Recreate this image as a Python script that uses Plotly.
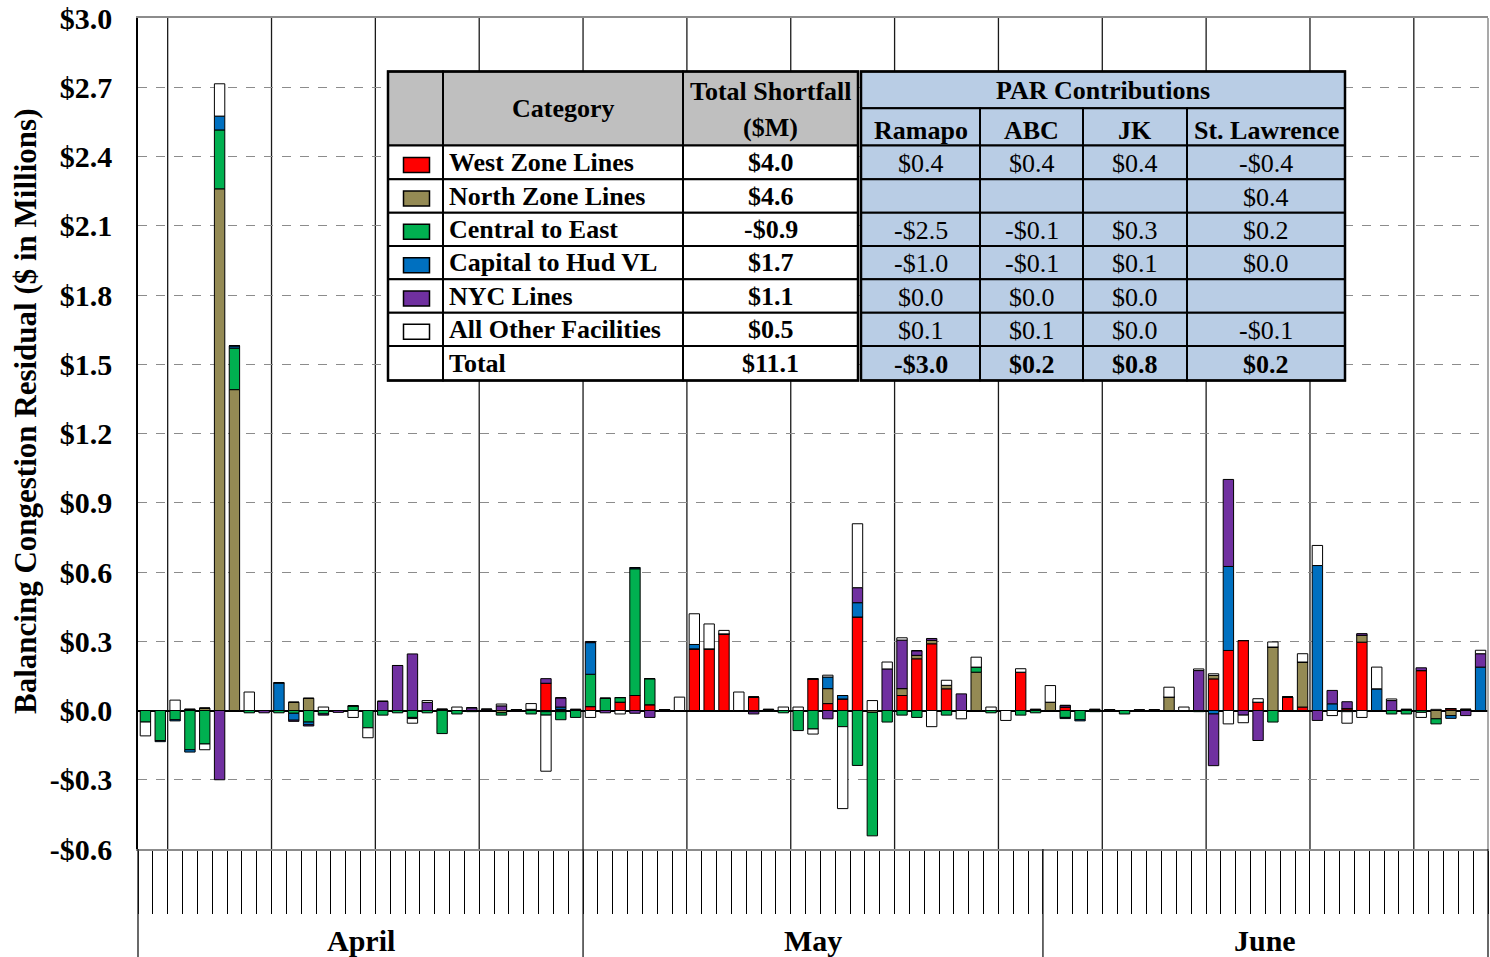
import plotly.graph_objects as go

# ---------------------------------------------------------------------------
# Daily balancing congestion residuals ($M), April 1 - June 30 (91 days)
# ---------------------------------------------------------------------------
days = list(range(91))
months = ["April", "May", "June"]
month_lengths = [30, 31, 30]

west_zone = [
    0, 0, 0, 0, 0, 0, 0, 0, 0, 0,
    0, 0, 0, 0, 0, 0, 0, 0, 0, 0,
    0, 0, 0, 0, 0, 0, 0, 0.118, 0.005, 0,
    0.017, 0, 0.036, 0.065, 0.025, 0, 0, 0.267, 0.267, 0.332,
    0, 0.058, 0, 0, 0, 0.137, 0.03, 0.05, 0.405, 0,
    0, 0.065, 0.224, 0.289, 0.094, 0, 0, 0, 0, 0.166,
    0, 0, 0.015, 0, 0, 0, 0, 0, 0, 0,
    0, 0, 0.137, 0.26, 0.303, 0.036, 0, 0.058, 0.015, 0,
    0, 0.008, 0.296, 0, 0, 0, 0.173, 0, 0.008, 0,
    0,
]
north_zone = [
    0, 0, 0, 0.005, 0.01, 2.26, 1.39, 0, 0, 0,
    0.036, 0.053, 0, 0, 0, 0, 0, 0, 0, 0,
    0.005, 0, 0, 0, -0.01, 0, 0, -0.005, -0.005, 0,
    0, 0, 0, 0, 0, 0, 0, 0, 0, 0,
    0, 0, 0, 0, 0, 0, 0.065, 0, 0, -0.008,
    0, 0.03, 0.015, 0.015, 0.015, 0, 0.166, 0, 0, 0,
    0, 0.036, 0, 0, 0, 0, 0, 0, 0, 0.058,
    0, 0, 0.015, 0, 0, 0, 0.275, 0, 0.195, 0,
    0, 0, 0.03, 0, 0, 0, 0, -0.036, -0.022, 0,
    0,
]
central_east = [
    -0.05, -0.13, -0.04, -0.17, -0.145, 0.255, 0.18, -0.01, 0, -0.01,
    -0.012, -0.05, -0.015, 0, 0.02, -0.075, -0.02, -0.01, -0.03, -0.01,
    -0.1, -0.015, -0.005, 0, -0.01, 0.004, -0.015, -0.015, -0.035, -0.03,
    0.14, 0.053, 0.02, 0.549, 0.113, 0.004, 0, 0, 0, 0,
    0, -0.005, -0.004, -0.01, -0.087, -0.08, 0, -0.07, -0.238, -0.535,
    -0.05, -0.02, -0.03, 0, -0.02, 0, 0.022, -0.01, 0, -0.02,
    -0.01, 0, -0.03, -0.04, -0.005, 0, -0.015, 0, 0, 0,
    0, -0.005, 0, 0, 0, 0, -0.05, 0, 0, 0,
    0, -0.005, 0, 0, -0.015, -0.015, -0.008, -0.022, 0, 0.005,
    0,
]
capital_hud = [
    0, -0.005, -0.005, -0.01, 0, 0.06, 0.01, 0, 0, 0.12,
    -0.03, -0.012, 0, 0, 0, 0, 0, 0, -0.005, 0,
    0, 0, 0, 0, 0, 0, 0, 0, 0.01, 0,
    0.137, 0, 0, 0.005, 0, 0, 0, 0.019, 0, 0,
    0, 0, 0, 0, 0, 0, 0.05, 0.015, 0.062, 0,
    0, 0, 0, 0, 0, 0, 0, 0, 0, 0,
    0, 0, -0.005, -0.005, 0, 0, 0, 0, 0, 0,
    0, 0, -0.015, 0.364, 0, 0, 0, 0, 0, 0.628,
    0.029, 0, 0, 0.094, 0, 0, 0, 0, -0.012, 0,
    0.188,
]
nyc_lines = [
    0, 0, 0, 0, 0, -0.30, 0, 0, -0.01, 0,
    -0.005, -0.005, -0.005, -0.008, 0, 0, 0.04, 0.195, 0.245, 0.035,
    0, 0, 0.012, 0.006, 0.02, -0.004, 0.005, 0.02, 0.04, 0.005,
    0.005, -0.01, 0, -0.012, -0.03, -0.004, 0, 0, 0, 0,
    0, -0.01, 0.005, 0, 0, 0, -0.036, 0, 0.065, 0,
    0.18, 0.21, 0.02, 0.008, 0, 0.072, 0, 0, 0, 0,
    0.005, 0, 0.007, 0, 0.005, 0.004, 0, 0.003, 0.004, 0,
    0, 0.173, -0.224, 0.377, -0.02, -0.13, 0, 0, 0, -0.043,
    0.058, 0.03, 0.007, 0, 0.043, 0.005, 0.012, 0, 0, -0.022,
    0.058,
]
all_other = [
    -0.06, 0, 0.045, 0, -0.025, 0.14, 0, 0.08, 0, 0,
    0, 0, 0.015, 0, -0.03, -0.043, 0, 0, -0.02, 0.008,
    0, 0.015, 0, 0, 0.008, 0, 0.025, -0.243, 0, 0,
    -0.03, 0, -0.015, 0, 0, 0, 0.058, 0.133, 0.108, 0.015,
    0.08, 0, 0, 0.015, 0.015, -0.022, 0.008, -0.355, 0.277, 0.043,
    0.03, 0.01, 0, -0.07, 0.022, -0.036, 0.043, 0.015, -0.043, 0.015,
    0, 0.072, 0, 0, 0, 0, 0, 0, 0, 0.043,
    0.015, 0.007, 0.007, -0.058, -0.033, 0.015, 0.022, 0, 0.036, 0.087,
    -0.022, -0.05, -0.03, 0.094, 0.007, 0, -0.022, 0.005, 0, 0,
    0.015,
]

series_names = ["West Zone Lines", "North Zone Lines", "Central to East",
                "Capital to Hud VL", "NYC Lines", "All Other Facilities"]
series_values = [west_zone, north_zone, central_east, capital_hud, nyc_lines, all_other]
series_colors = ["#FF0000", "#948A54", "#00B050", "#0070C0", "#7030A0", "#FFFFFF"]

# Summary table
table_rows = series_names + ["Total"]
total_shortfall = ["$4.0", "$4.6", "-$0.9", "$1.7", "$1.1", "$0.5", "$11.1"]
par_names = ["Ramapo", "ABC", "JK", "St. Lawrence"]
par_ramapo = ["$0.4", "", "-$2.5", "-$1.0", "$0.0", "$0.1", "-$3.0"]
par_abc = ["$0.4", "", "-$0.1", "-$0.1", "$0.0", "$0.1", "$0.2"]
par_jk = ["$0.4", "", "$0.3", "$0.1", "$0.0", "$0.0", "$0.8"]
par_stlawrence = ["-$0.4", "$0.4", "$0.2", "$0.0", "", "-$0.1", "$0.2"]
par_values = [par_ramapo, par_abc, par_jk, par_stlawrence]

y_ticks = [-0.6, -0.3, 0.0, 0.3, 0.6, 0.9, 1.2, 1.5, 1.8, 2.1, 2.4, 2.7, 3.0]
y_tick_text = [("-$%.1f" % -v) if v < 0 else ("$%.1f" % v) for v in y_ticks]

# ---------------------------------------------------------------------------
W, H = 1490, 957
ML, MR, MT, MB = 138, 2, 18, 108
PW, PH = W - ML - MR, H - MT - MB
SERIF = "Liberation Serif"


def px(x):
    return (x - ML) / PW


def py(y):
    return (H - MB - y) / PH


fig = go.Figure()
for name, vals, col in zip(series_names, series_values, series_colors):
    fig.add_trace(go.Bar(
        x=days, y=vals, name=name, width=0.7,
        marker=dict(color=col, line=dict(color="black", width=1)),
    ))

shapes = []
annotations = []

# weekly separators through the plot area
for k in range(13):
    xv = 1.5 + 7 * k
    shapes.append(dict(type="line", xref="x", yref="paper", x0=xv, x1=xv, y0=0, y1=1,
                       line=dict(color="#1a1a1a", width=1.3), layer="below"))

# month separators below the axis and month names
n_days = len(days)
start = 0
bounds = [0]
for m, ln in zip(months, month_lengths):
    centre = (start + ln / 2) / n_days
    annotations.append(dict(text=m, xref="paper", yref="paper", x=centre, y=py(940),
                            showarrow=False, xanchor="center", yanchor="middle",
                            font=dict(family=SERIF, size=30, color="black", weight="bold")))
    start += ln
    bounds.append(start)
for b in bounds:
    shapes.append(dict(type="line", xref="paper", yref="paper", x0=b / n_days, x1=b / n_days,
                       y0=py(H), y1=0, line=dict(color="#1a1a1a", width=1.3)))
# right border of the plot
shapes.append(dict(type="line", xref="paper", yref="paper", x0=1, x1=1, y0=0, y1=1,
                   line=dict(color="#8c8c8c", width=1.5)))

# y-axis title
annotations.append(dict(text="Balancing Congestion Residual ($ in Millions)",
                        xref="paper", yref="paper", x=px(25), y=py(412), textangle=-90,
                        showarrow=False, xanchor="center", yanchor="middle",
                        font=dict(family=SERIF, size=31, color="black", weight="bold")))

# ---------------------------------------------------------------------------
# Summary table
col_x = [388, 443, 683, 858]          # swatch | category | total
par_x = [861, 980, 1083, 1187, 1345]  # PAR columns
row_y = [145.5, 179.3, 212.7, 246, 279.3, 312.7, 346, 380.5]
top_y, mid_y = 71.5, 108.3
HEAD_GREY = "#BFBFBF"
PAR_BLUE = "#B9CDE5"
BORDER = dict(color="black", width=2)


def rect(x0, y0, x1, y1, fill, line=BORDER):
    shapes.append(dict(type="rect", xref="paper", yref="paper",
                       x0=px(x0), x1=px(x1), y0=py(y1), y1=py(y0),
                       fillcolor=fill, line=line, layer="above"))


def text(s, x, y, size=26, bold=True, anchor="center"):
    annotations.append(dict(text=s, xref="paper", yref="paper", x=px(x), y=py(y),
                            showarrow=False, xanchor=anchor, yanchor="middle",
                            font=dict(family=SERIF, size=size, color="black",
                                      weight="bold" if bold else "normal")))


# header cells
rect(col_x[0], top_y, col_x[1], row_y[0], HEAD_GREY)
rect(col_x[1], top_y, col_x[2], row_y[0], HEAD_GREY)
rect(col_x[2], top_y, col_x[3], row_y[0], HEAD_GREY)
rect(par_x[0], top_y, par_x[-1], mid_y, PAR_BLUE)
for j in range(4):
    rect(par_x[j], mid_y, par_x[j + 1], row_y[0], PAR_BLUE)
text("Category", (col_x[1] + col_x[2]) / 2, 108.5)
text("Total Shortfall", (col_x[2] + col_x[3]) / 2, 92)
text("($M)", (col_x[2] + col_x[3]) / 2, 127)
text("PAR Contributions", (par_x[0] + par_x[-1]) / 2, 90)
for j, nm in enumerate(par_names):
    text(nm, (par_x[j] + par_x[j + 1]) / 2, 130)

# body cells
for i, label in enumerate(table_rows):
    y0, y1 = row_y[i], row_y[i + 1]
    yc = (y0 + y1) / 2
    rect(col_x[0], y0, col_x[1], y1, "white")
    rect(col_x[1], y0, col_x[2], y1, "white")
    rect(col_x[2], y0, col_x[3], y1, "white")
    for j in range(4):
        rect(par_x[j], y0, par_x[j + 1], y1, PAR_BLUE)
        text(par_values[j][i], (par_x[j] + par_x[j + 1]) / 2, yc + 1,
             bold=(label == "Total"))
    if i < len(series_colors):
        rect(403.5, yc - 5, 429.5, yc + 10, series_colors[i],
             line=dict(color="black", width=1.5))
    text(label, 447, yc, anchor="left")
    text(total_shortfall[i], (col_x[2] + col_x[3]) / 2, yc)

# outer frames
rect(col_x[0], top_y, col_x[3], row_y[-1], "rgba(0,0,0,0)", line=dict(color="black", width=2.5))
rect(par_x[0], top_y, par_x[-1], row_y[-1], "rgba(0,0,0,0)", line=dict(color="black", width=2.5))

fig.update_layout(
    width=W, height=H,
    margin=dict(l=ML, r=MR, t=MT, b=MB, pad=0),
    paper_bgcolor="white", plot_bgcolor="white",
    barmode="relative", bargap=0.3, showlegend=False,
    shapes=shapes, annotations=annotations,
    xaxis=dict(
        range=[-0.5, n_days - 0.5], showgrid=False, zeroline=False,
        tickmode="array", tickvals=[d - 0.5 for d in range(n_days + 1)],
        ticks="outside", ticklen=63, tickwidth=1, tickcolor="black",
        showticklabels=False,
        showline=True, linecolor="#8c8c8c", linewidth=2, mirror=True,
    ),
    yaxis=dict(
        range=[-0.6, 3.0], tickmode="array", tickvals=y_ticks, ticktext=y_tick_text,
        showgrid=True, gridcolor="#8c8c8c", griddash="dash", gridwidth=1,
        zeroline=True, zerolinecolor="black", zerolinewidth=2,
        showline=True, linecolor="black", linewidth=1.5,
        ticks="", ticklabelstandoff=18,
        tickfont=dict(family=SERIF, size=30, color="black", weight="bold"),
    ),
)

fig.write_html("out.html")
